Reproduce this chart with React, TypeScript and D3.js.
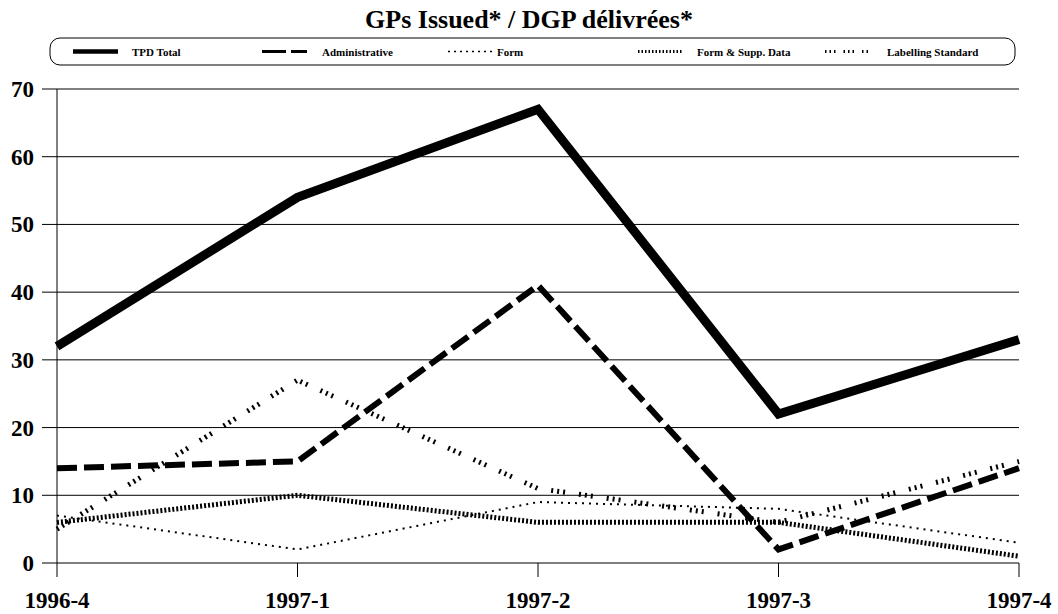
import React from "react";
import * as d3 from "d3";

// quarters on the x axis
const quarters = ["1996-4", "1997-1", "1997-2", "1997-3", "1997-4"];

// series values
const tpdTotal = [32, 54, 67, 22, 33];
const administrative = [14, 15, 41, 2, 14];
const form = [7, 2, 9, 8, 3];
const formSupp = [6, 10, 6, 6, 1];
const labelling = [5, 27, 11, 6, 15];

const yTicks = [0, 10, 20, 30, 40, 50, 60, 70];

const seriesNames = ["TPD Total", "Administrative", "Form", "Form & Supp. Data", "Labelling Standard"];

// plot strokes
const styles = [
  { width: 9, dash: "none" },
  { width: 6, dash: "20,7" },
  { width: 2, dash: "2,5" },
  { width: 5, dash: "2,2" },
  { width: 5, dash: "2,4,2,4,2,14" },
];
// legend strokes (smaller)
const legendStyles = [
  { width: 4.5, dash: "none" },
  { width: 3, dash: "24,5" },
  { width: 1.5, dash: "2,4" },
  { width: 3, dash: "1.5,2" },
  { width: 3, dash: "1.5,3,1.5,3,1.5,8" },
];
const legendX = [73, 262, 448, 638, 825];
const legendTextX = [132, 322, 497, 697, 887];

const W = 1058;
const H = 614;
const margin = { left: 57, right: 39, top: 89, bottom: 51 };

const App = () => {
  const allSeries = [tpdTotal, administrative, form, formSupp, labelling];

  const x = d3
    .scalePoint()
    .domain(quarters)
    .range([margin.left, W - margin.right]);
  const y = d3
    .scaleLinear()
    .domain([0, 70])
    .range([H - margin.bottom, margin.top]);

  const line = d3
    .line<number>()
    .x((d, i) => x(quarters[i]) as number)
    .y(d => y(d));

  const font = "'Liberation Serif', 'Times New Roman', serif";

  return (
    <svg width={W} height={H} style={{ position: "absolute", left: 0, top: 0, background: "#fff" }}>
      <text x={529} y={28} textAnchor="middle" fontFamily={font} fontWeight="bold" fontSize={26}>
        GPs Issued* / DGP délivrées*
      </text>

      {/* legend */}
      <rect x={50} y={38} width={965} height={27} rx={10} fill="none" stroke="#000" strokeWidth={1} />
      {seriesNames.map((name, i) => (
        <g key={name}>
          <line
            x1={legendX[i]}
            x2={legendX[i] + 45}
            y1={51.5}
            y2={51.5}
            stroke="#000"
            strokeWidth={legendStyles[i].width}
            strokeDasharray={legendStyles[i].dash}
          />
          <text x={legendTextX[i]} y={55.5} fontFamily={font} fontWeight="bold" fontSize={11}>
            {name}
          </text>
        </g>
      ))}

      {/* grid and y axis */}
      {yTicks.map(t => (
        <g key={t}>
          <line x1={42} x2={W - margin.right} y1={y(t)} y2={y(t)} stroke="#000" strokeWidth={1} />
          <text
            x={34}
            y={y(t) + 8}
            textAnchor="end"
            fontFamily={font}
            fontWeight="bold"
            fontSize={23}
          >
            {t}
          </text>
        </g>
      ))}
      <line x1={margin.left} x2={margin.left} y1={margin.top} y2={H - margin.bottom} stroke="#000" />

      {/* x axis */}
      {quarters.map(q => (
        <g key={q}>
          <line x1={x(q)} x2={x(q)} y1={H - margin.bottom} y2={H - margin.bottom + 14} stroke="#000" />
          <text
            x={x(q) as number}
            y={608}
            textAnchor="middle"
            fontFamily={font}
            fontWeight="bold"
            fontSize={23}
          >
            {q}
          </text>
        </g>
      ))}

      {/* lines, thin ones first so the total sits on top */}
      {[2, 3, 4, 1, 0].map(i => (
        <path
          key={i}
          d={line(allSeries[i]) as string}
          fill="none"
          stroke="#000"
          strokeWidth={styles[i].width}
          strokeDasharray={styles[i].dash}
          strokeLinejoin="miter"
        />
      ))}
    </svg>
  );
};

export default App;
